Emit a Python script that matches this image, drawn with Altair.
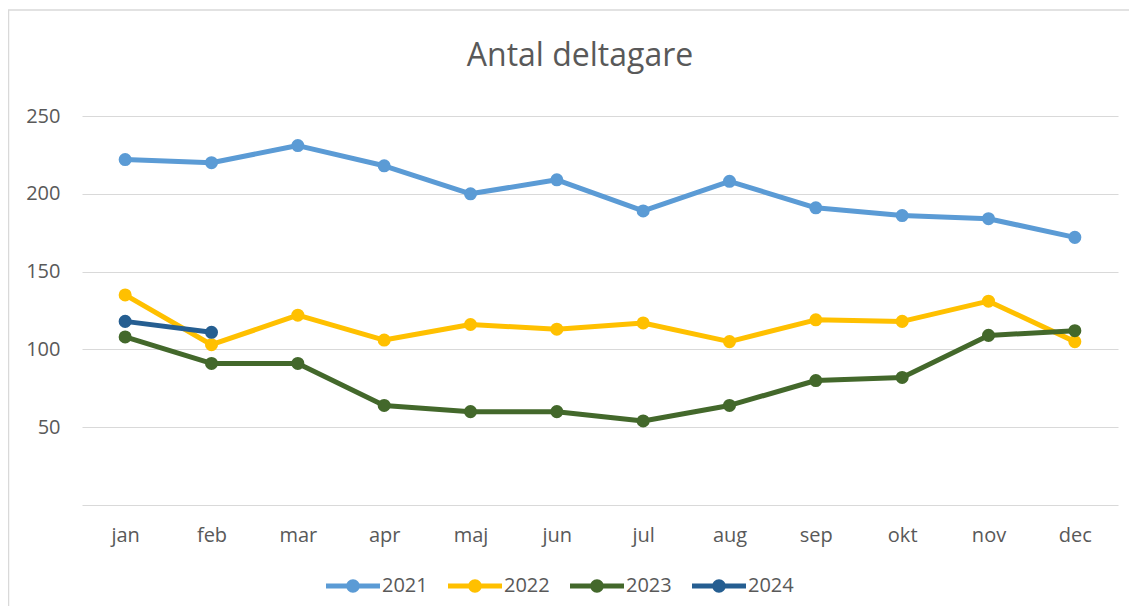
import altair as alt
import pandas as pd

months = ["jan", "feb", "mar", "apr", "maj", "jun", "jul", "aug", "sep", "okt", "nov", "dec"]
years = ["2021", "2022", "2023", "2024"]
v2021 = [222, 220, 231, 218, 200, 209, 189, 208, 191, 186, 184, 172]
v2022 = [135, 103, 122, 106, 116, 113, 117, 105, 119, 118, 131, 105]
v2023 = [108, 91, 91, 64, 60, 60, 54, 64, 80, 82, 109, 112]
v2024 = [118, 111]
colors = ["#5B9BD5", "#FFC000", "#43682B", "#255E91"]
y_ticks = [50, 100, 150, 200, 250]

rows = []
for yr, vals in zip(years, [v2021, v2022, v2023, v2024]):
    for m, v in zip(months, vals):
        rows.append({"month": m, "year": yr, "value": v})
df = pd.DataFrame(rows)

FONT = "Open Sans"
GRAY = "#595959"
GRID = "#D9D9D9"

legend_path = (
    "M-1,-0.09L1,-0.09L1,0.09L-1,0.09Z "
    "M0.25,0A0.25,0.25 0 1,1 -0.25,0A0.25,0.25 0 1,1 0.25,0Z"
)

color = alt.Color(
    "year:N",
    scale=alt.Scale(domain=years, range=colors),
    legend=alt.Legend(
        title=None,
        orient="none",
        direction="horizontal",
        legendX=244,
        legendY=443,
        symbolType=legend_path,
        symbolSize=2916,
        symbolStrokeWidth=0,
        labelOffset=2,
        columnPadding=20,
        labelFont=FONT,
        labelFontSize=20,
        labelColor=GRAY,
    ),
)

x = alt.X(
    "month:N",
    sort=months,
    scale=alt.Scale(domain=months, padding=0.5),
    axis=alt.Axis(
        title=None,
        labelAngle=0,
        ticks=False,
        domain=True,
        domainColor=GRID,
        domainWidth=1,
        labelPadding=20,
        labelFont=FONT,
        labelFontSize=20,
        labelColor=GRAY,
        grid=False,
    ),
)
y = alt.Y(
    "value:Q",
    scale=alt.Scale(domain=[0, 250], nice=False),
    axis=alt.Axis(
        title=None,
        values=y_ticks,
        ticks=False,
        domain=False,
        grid=True,
        gridColor=GRID,
        gridWidth=1,
        labelPadding=22,
        labelFont=FONT,
        labelFontSize=20,
        labelColor=GRAY,
    ),
)

base = alt.Chart(df)
lines = base.mark_line(strokeWidth=5, strokeJoin="round").encode(x=x, y=y, color=color, detail="year:N")
points = base.mark_point(filled=True, size=170, opacity=1).encode(x=x, y=y, color=color)

border_df = pd.DataFrame({"b": [0]})
border = alt.Chart(border_df).mark_rect(fill="white", fillOpacity=0, stroke=GRID, strokeWidth=1.5).encode(
    x=alt.value(-73.5), x2=alt.value(1070), y=alt.value(-106), y2=alt.value(520)
)

chart = alt.layer(border, lines, points).properties(
    width=1036,
    height=389,
    background="white",
    title=alt.TitleParams(
        "Antal deltagare",
        font=FONT,
        fontSize=32,
        fontWeight="normal",
        color=GRAY,
        anchor="middle",
        dx=-20,
        offset=-64,
    ),
    autosize=alt.AutoSizeParams(type="none"),
    padding={"left": 74, "top": 108, "right": 11, "bottom": 101},
).configure_view(stroke="transparent", strokeWidth=0)

chart.save("out.html", embed_options={"renderer": "svg", "actions": False})
